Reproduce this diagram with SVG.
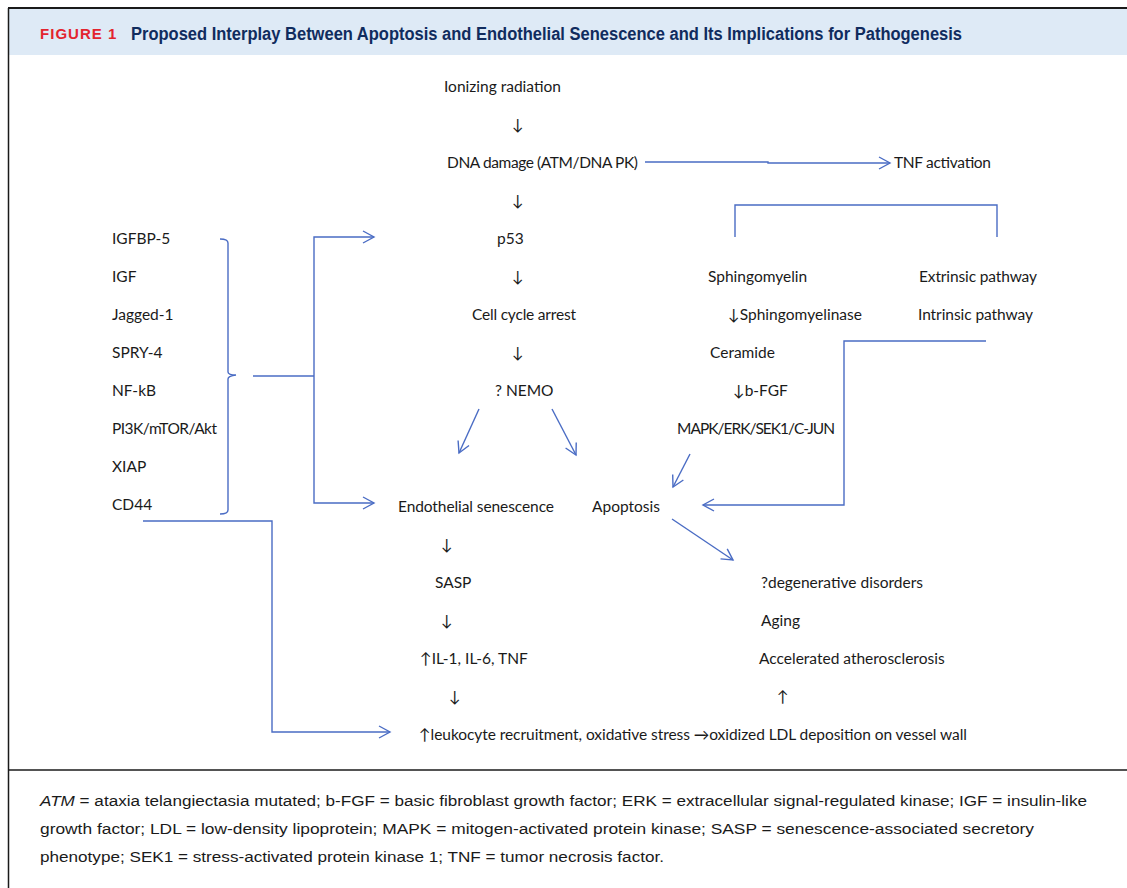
<svg xmlns="http://www.w3.org/2000/svg" width="1127" height="888" viewBox="0 0 1127 888">
<defs>
<style>
.t{font-family:Lato,"Liberation Sans",sans-serif;font-size:15.5px;fill:#1a1a1a}
.c{fill:none;stroke:#4a6cc4;stroke-width:1.4}
.ft{font-family:"Liberation Sans",Arial,sans-serif;font-size:15.5px;fill:#1a1a1a}
</style>
<marker id="ah" markerUnits="userSpaceOnUse" markerWidth="14" markerHeight="14" refX="12" refY="7" orient="auto">
<path d="M1,1 L12,7 L1,13" fill="none" stroke="#4a6cc4" stroke-width="1.4"/>
</marker>
</defs>
<rect x="0" y="0" width="1127" height="888" fill="#ffffff"/>
<rect x="9" y="9" width="1118" height="46" fill="#deeaf6"/>
<line x1="8" y1="8" x2="1127" y2="8" stroke="#1a1a1a" stroke-width="2"/>
<line x1="8.5" y1="8" x2="8.5" y2="888" stroke="#1a1a1a" stroke-width="1.5"/>
<line x1="8" y1="770" x2="1127" y2="770" stroke="#1a1a1a" stroke-width="1.5"/>
<g id="header">
<text x="40" y="39" font-family="'Liberation Sans',Arial,sans-serif" font-weight="bold" font-size="15" fill="#e3242f" letter-spacing="1.6" textLength="78">FIGURE 1</text>
<text x="131" y="39.5" font-family="'Liberation Sans',Arial,sans-serif" font-weight="bold" font-size="17.5" fill="#102c5e" textLength="831" lengthAdjust="spacingAndGlyphs">Proposed Interplay Between Apoptosis and Endothelial Senescence and Its Implications for Pathogenesis</text>
</g>
<g id="connectors">
<path class="c" d="M645,162 L768,162 L768,163 L890,163" marker-end="url(#ah)"/>
<path class="c" d="M735,237 L735,205 L997,205 L997,237"/>
<path class="c" d="M986,341 L844,341 L844,505 L703,505" marker-end="url(#ah)"/>
<path class="c" d="M479,409 L459,453" marker-end="url(#ah)"/>
<path class="c" d="M552,409 L576,455" marker-end="url(#ah)"/>
<path class="c" d="M690,454 L673,487" marker-end="url(#ah)"/>
<path class="c" d="M220,239 Q228,239 228,243 L228,372 Q228,375 236,375 Q228,376 228,379 L228,510 Q228,514 220,514"/>
<path class="c" d="M253,376 L314,376"/>
<path class="c" d="M314,376 L314,237 L374,237" marker-end="url(#ah)"/>
<path class="c" d="M314,376 L314,503 L374,503" marker-end="url(#ah)"/>
<path class="c" d="M672,519 L733,560" marker-end="url(#ah)"/>
<path class="c" d="M143,521 L272,521 L272,732 L390,732" marker-end="url(#ah)"/>
</g>
<g id="n-left">
<text class="t" x="112" y="244">IGFBP-5</text>
<text class="t" x="112" y="282">IGF</text>
<text class="t" x="112" y="320">Jagged-1</text>
<text class="t" x="112" y="358">SPRY-4</text>
<text class="t" x="112" y="396">NF-kB</text>
<text class="t" x="112" y="434" textLength="105">PI3K/mTOR/Akt</text>
<text class="t" x="112" y="472">XIAP</text>
<text class="t" x="112" y="510">CD44</text>
</g>
<g id="n-center">
<text class="t" x="444" y="92">Ionizing radiation</text>
<text class="t" x="512" y="130">↓</text>
<text class="t" x="447" y="168" textLength="191">DNA damage (ATM/DNA PK)</text>
<text class="t" x="512" y="206">↓</text>
<text class="t" x="497" y="244">p53</text>
<text class="t" x="512" y="282">↓</text>
<text class="t" x="472" y="320" textLength="104">Cell cycle arrest</text>
<text class="t" x="512" y="358">↓</text>
<text class="t" x="495" y="396">? NEMO</text>
</g>
<g id="n-tnf"><text class="t" x="894" y="168" textLength="97">TNF activation</text></g>
<g id="n-right">
<text class="t" x="708" y="282">Sphingomyelin</text>
<text class="t" x="919" y="282" textLength="118">Extrinsic pathway</text>
<text class="t" x="728" y="320" textLength="134">↓Sphingomyelinase</text>
<text class="t" x="918" y="320" textLength="115">Intrinsic pathway</text>
<text class="t" x="710" y="358">Ceramide</text>
<text class="t" x="733" y="396">↓b-FGF</text>
<text class="t" x="677" y="434" textLength="158">MAPK/ERK/SEK1/C-JUN</text>
</g>
<g id="n-sen"><text class="t" x="398" y="512" textLength="156">Endothelial senescence</text></g>
<g id="n-apo"><text class="t" x="592" y="512">Apoptosis</text></g>
<g id="n-sasp">
<text class="t" x="441" y="550">↓</text>
<text class="t" x="435" y="588">SASP</text>
<text class="t" x="441" y="626">↓</text>
<text class="t" x="420" y="664">↑IL-1, IL-6, TNF</text>
<text class="t" x="449" y="702">↓</text>
</g>
<g id="n-outcomes">
<text class="t" x="761" y="588" textLength="162">?degenerative disorders</text>
<text class="t" x="761" y="626">Aging</text>
<text class="t" x="759" y="664">Accelerated atherosclerosis</text>
<text class="t" x="777" y="702">↑</text>
</g>
<g id="n-bottom"><text class="t" x="419" y="740" textLength="548">↑leukocyte recruitment, oxidative stress →oxidized LDL deposition on vessel wall</text></g>
<g id="footer">
<text class="ft" x="40" y="806" textLength="1047" lengthAdjust="spacingAndGlyphs"><tspan font-style="italic">ATM</tspan> = ataxia telangiectasia mutated; b-FGF = basic fibroblast growth factor; ERK = extracellular signal-regulated kinase; IGF = insulin-like</text>
<text class="ft" x="40" y="834" textLength="994" lengthAdjust="spacingAndGlyphs">growth factor; LDL = low-density lipoprotein; MAPK = mitogen-activated protein kinase; SASP = senescence-associated secretory</text>
<text class="ft" x="40" y="862" textLength="624" lengthAdjust="spacingAndGlyphs">phenotype; SEK1 = stress-activated protein kinase 1; TNF = tumor necrosis factor.</text>
</g>
</svg>
